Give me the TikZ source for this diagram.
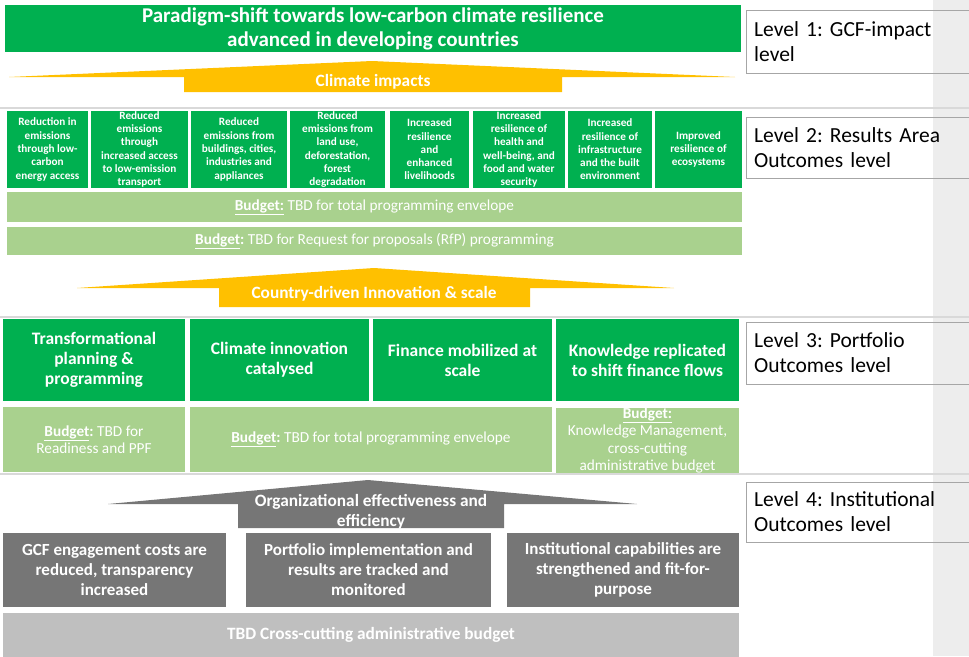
\documentclass[tikz,border=0pt]{standalone}
\usepackage{fontspec}
\setmainfont{Carlito}
\definecolor{gcfgreen}{HTML}{00B050}
\definecolor{budgetgreen}{HTML}{A9D18E}
\definecolor{impactyellow}{HTML}{FFC000}
\definecolor{instgray}{HTML}{767676}
\definecolor{admingray}{HTML}{BFBFBF}
\definecolor{stripgray}{HTML}{EDEDED}
\definecolor{sepgray}{HTML}{D9D9D9}

\begin{document}
\frenchspacing
\begin{tikzpicture}[x=1pt, y=-1pt,
    outcome/.style={fill=gcfgreen, text=white, align=center, inner sep=0pt},
    budget/.style={fill=budgetgreen, text=white, align=center, inner sep=0pt},
    inst/.style={fill=instgray, text=white, align=center, inner sep=0pt, font=\fontsize{17}{20}\selectfont\bfseries},
    arrowtext/.style={text=white, align=center, inner sep=0pt, font=\fontsize{17.3}{20}\selectfont\bfseries},
    levelbox/.style={draw=black!35, anchor=west, align=left, inner xsep=8pt, text width=213pt, font=\fontsize{21.5}{25}\selectfont},
    areafont/.style={font=\fontsize{11.2}{13.3}\selectfont\bfseries},
    bigfont/.style={font=\fontsize{17.5}{20}\selectfont\bfseries}]
  \useasboundingbox (0,0) rectangle (969,656);
  % Side strip
  \fill[stripgray] (933,0) rectangle (969,656);
  % Separators
  \draw[sepgray, line width=1.2pt] (0,108) -- (969,108);
  \draw[sepgray, line width=1.2pt] (0,317) -- (969,317);
  \draw[sepgray, line width=1.2pt] (0,474) -- (969,474);

  % Level 1
  \node[outcome, minimum width=736pt, minimum height=47pt, font=\fontsize{21}{24}\selectfont\bfseries] (impact) at (373,28.5) {Paradigm-shift towards low-carbon climate resilience\\advanced in developing countries};
  \node[levelbox, minimum height=63pt] (lvlone) at (746,41.5) {Level 1: GCF-impact\\level};
  \fill[impactyellow] (9,77) -- (372,61) -- (735,77) -- (562,77) -- (562,92) -- (184,92) -- (184,77) -- cycle;
  \node[arrowtext] (climate) at (373,82) {Climate impacts};

  % Level 2: results areas
  \node[outcome, areafont, minimum width=81pt, minimum height=77pt] (areaone) at (47.5,149.5) {Reduction in\\emissions\\through low-\\carbon\\energy access};
  \node[outcome, areafont, minimum width=97pt, minimum height=77pt] (areatwo) at (139.5,149.5) {Reduced\\emissions\\through\\increased access\\to low-emission\\transport};
  \node[outcome, areafont, minimum width=96pt, minimum height=77pt] (areathree) at (239,149.5) {Reduced\\emissions from\\buildings, cities,\\industries and\\appliances};
  \node[outcome, areafont, minimum width=95pt, minimum height=77pt] (areafour) at (337.5,149.5) {Reduced\\emissions from\\land use,\\deforestation,\\forest\\degradation};
  \node[outcome, areafont, minimum width=79pt, minimum height=77pt] (areafive) at (429.5,149.5) {Increased\\resilience\\and\\enhanced\\livelihoods};
  \node[outcome, areafont, minimum width=92pt, minimum height=77pt] (areasix) at (519,149.5) {Increased\\resilience of\\health and\\well-being, and\\food and water\\security};
  \node[outcome, areafont, minimum width=84pt, minimum height=77pt] (areaseven) at (610,149.5) {Increased\\resilience of\\infrastructure\\and the built\\environment};
  \node[outcome, areafont, minimum width=87pt, minimum height=77pt] (areaeight) at (698.5,149.5) {Improved\\resilience of\\ecosystems};
  \node[levelbox, minimum height=61pt] (lvltwo) at (746,147.5) {Level 2: Results Area\\Outcomes level};
  % Budgets
  \node[budget, minimum width=735pt, minimum height=30pt, font=\fontsize{15.3}{17}\selectfont] (budtotal) at (374.5,207) {\textbf{\underline{Budget:}} TBD for total programming envelope};
  \node[budget, minimum width=735pt, minimum height=28pt, font=\fontsize{15.3}{17}\selectfont] (budrfp) at (374.5,241) {\textbf{\underline{Budget}:} TBD for Request for proposals (RfP) programming};
  \fill[impactyellow] (77,288) -- (374,268) -- (674,288) -- (530,288) -- (530,307) -- (219,307) -- (219,288) -- cycle;
  \node[arrowtext] (country) at (374,294) {Country-driven Innovation \& scale};

  % Level 3: portfolio
  \node[outcome, bigfont, minimum width=182pt, minimum height=82pt] (transform) at (94,360) {Transformational\\planning \&\\programming};
  \node[outcome, bigfont, minimum width=179pt, minimum height=82pt] (innov) at (279.5,360) {Climate innovation\\catalysed};
  \node[outcome, bigfont, minimum width=179pt, minimum height=82pt] (finance) at (462.5,360) {Finance mobilized at\\scale};
  \node[outcome, bigfont, minimum width=183pt, minimum height=82pt] (knowledge) at (647.5,360) {Knowledge replicated\\to shift finance flows};
  \node[levelbox, minimum height=62pt] (lvlthree) at (746,353) {Level 3: Portfolio\\Outcomes level};
  \node[budget, minimum width=182pt, minimum height=65pt, font=\fontsize{15.3}{17.3}\selectfont] (budready) at (94,439.5) {\textbf{\underline{Budget}:} TBD for\\Readiness and PPF};
  \node[budget, minimum width=362pt, minimum height=65pt, font=\fontsize{15.3}{17.3}\selectfont] (budprog) at (371,439.5) {\textbf{\underline{Budget}:} TBD for total programming envelope};
  \begin{scope}
    \clip (556,407) rectangle (739,472);
    \node[budget, minimum width=183pt, minimum height=65pt, font=\fontsize{15.3}{17.3}\selectfont] (budknow) at (647.5,440.5) {\textbf{\underline{Budget:}}\\Knowledge Management,\\cross-cutting\\administrative budget};
  \end{scope}

  % Level 4: institutional
  \fill[instgray] (108,504) -- (368,480) -- (637,504) -- (504,504) -- (504,528) -- (238,528) -- (238,504) -- cycle;
  \node[arrowtext] (effect) at (371,512) {Organizational effectiveness and\\efficiency};
  \node[levelbox, minimum height=60pt] (lvlfour) at (746,512) {Level 4: Institutional\\Outcomes level};
  \node[inst, minimum width=223pt, minimum height=74pt] (costs) at (114.5,570) {GCF engagement costs are\\reduced, transparency\\increased};
  \node[inst, minimum width=245pt, minimum height=74pt] (tracked) at (368.5,570) {Portfolio implementation and\\results are tracked and\\monitored};
  \node[inst, minimum width=232pt, minimum height=74pt] (capab) at (623,570) {Institutional capabilities are\\strengthened and fit-for-\\purpose};
  \node[fill=admingray, text=white, inner sep=0pt, minimum width=736pt, minimum height=44pt, font=\fontsize{17.3}{20}\selectfont\bfseries] (admin) at (371,635) {TBD Cross-cutting administrative budget};
\end{tikzpicture}
\end{document}
